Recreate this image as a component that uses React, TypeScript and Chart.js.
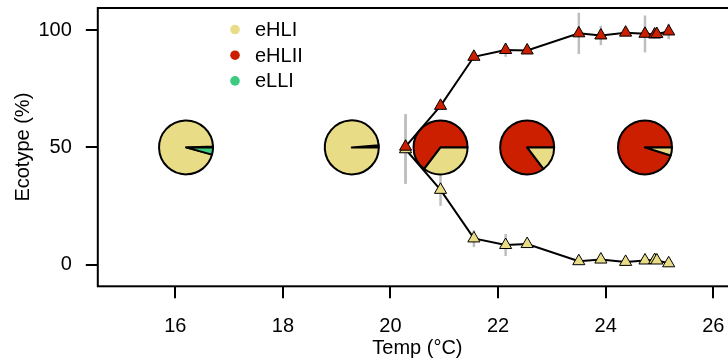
import React, { useEffect, useRef } from "react";
import { Chart, registerables } from "chart.js";
Chart.register(...registerables);

const FONT = "'Liberation Sans', Arial, Helvetica, sans-serif";

// Legend / ecotypes
const ecotypes = ["eHLI", "eHLII", "eLLI"];
const ecotypeColors = ["#E8DC86", "#CC1F00", "#3CCB7F"];

// Triangle series (temperature, % of ecotype)
const tempPoints = [20.28, 20.93, 21.55, 22.14, 22.54, 23.5, 23.91, 24.37, 24.73, 24.91, 24.95, 25.17];
const eHLIIValues = [50.3, 67.7, 88.6, 91.5, 91.3, 98.6, 97.7, 98.9, 98.4, 98.1, 98.3, 99.4];
const eHLIValues = [49.2, 31.9, 11.2, 8.4, 8.8, 1.5, 2.2, 1.2, 1.8, 2.0, 1.8, 0.6];

// Error bars (grey)
const eHLIIErrTemps = [20.28, 22.14, 23.5, 23.91, 24.73, 25.17];
const eHLIIErrLow = [34.5, 88.6, 89.8, 93.6, 90.5, 96.1];
const eHLIIErrHigh = [64.1, 94.4, 107.4, 101.8, 106.2, 102.7];
const eHLIErrTemps = [20.28, 20.93, 21.55, 22.14];
const eHLIErrLow = [34.5, 25.1, 7.5, 3.7];
const eHLIErrHigh = [64.1, 38.5, 14.7, 13.1];

// Pies (position + composition in %)
const pieTemps = [16.2, 19.28, 20.93, 22.54, 24.73];
const pieLevels = [50, 50, 50, 50, 50];
const pieEHLII = [0.5, 1.2, 64.7, 85.3, 95.1];
const pieEHLI = [95.2, 98.8, 35.3, 14.7, 4.9];
const pieELLI = [4.3, 0, 0, 0, 0];

// Axes
const xTicks = [16, 18, 20, 22, 24, 26];
const yTicks = [0, 50, 100];
const xTitle = "Temp (\u00B0C)";
const yTitle = "Ecotype (%)";

const PIE_R = 27;

const overlayPlugin = {
  id: "overlay",
  beforeDatasetsDraw(chart: any) {
    const { ctx, scales } = chart;
    const xs = scales.x;
    const ys = scales.y;
    ctx.save();
    // error bars
    ctx.strokeStyle = "#BEBEBE";
    ctx.lineWidth = 2.5;
    const drawBars = (t: number[], lo: number[], hi: number[]) => {
      t.forEach((tv, i) => {
        const px = xs.getPixelForValue(tv);
        ctx.beginPath();
        ctx.moveTo(px, ys.getPixelForValue(lo[i]));
        ctx.lineTo(px, ys.getPixelForValue(hi[i]));
        ctx.stroke();
      });
    };
    drawBars(eHLIIErrTemps, eHLIIErrLow, eHLIIErrHigh);
    drawBars(eHLIErrTemps, eHLIErrLow, eHLIErrHigh);

    // pies: counter-clockwise from 3 o'clock, order eHLII, eHLI, eLLI
    pieTemps.forEach((tv, i) => {
      const cx = xs.getPixelForValue(tv);
      const cy = ys.getPixelForValue(pieLevels[i]);
      const parts = [pieEHLII[i], pieEHLI[i], pieELLI[i]];
      const cols = [ecotypeColors[1], ecotypeColors[0], ecotypeColors[2]];
      const total = parts.reduce((a, b) => a + b, 0);
      let a0 = 0;
      ctx.lineWidth = 2;
      ctx.strokeStyle = "#000";
      ctx.lineJoin = "round";
      parts.forEach((p, k) => {
        if (p <= 0) return;
        const a1 = a0 - (p / total) * Math.PI * 2;
        ctx.beginPath();
        ctx.moveTo(cx, cy);
        ctx.arc(cx, cy, PIE_R, a0, a1, true);
        ctx.closePath();
        ctx.fillStyle = cols[k];
        ctx.fill();
        ctx.stroke();
        a0 = a1;
      });
    });
    ctx.restore();
  },
  afterDraw(chart: any) {
    const { ctx, chartArea } = chart;
    ctx.save();
    // box
    ctx.strokeStyle = "#000";
    ctx.lineWidth = 2;
    ctx.strokeRect(chartArea.left, chartArea.top, chartArea.right - chartArea.left, chartArea.bottom - chartArea.top);
    // legend
    ctx.font = `20px ${FONT}`;
    ctx.textBaseline = "middle";
    ctx.textAlign = "left";
    ecotypes.forEach((name, i) => {
      const y = 29.5 + i * 25.7;
      ctx.beginPath();
      ctx.arc(235, y, 4.8, 0, Math.PI * 2);
      ctx.fillStyle = ecotypeColors[i];
      ctx.fill();
      ctx.fillStyle = "#000";
      ctx.fillText(name, 255, y + 1);
    });
    ctx.restore();
  },
};

export default function App() {
  const ref = useRef<HTMLCanvasElement | null>(null);
  useEffect(() => {
    if (!ref.current) return;
    const tickFont = { family: FONT, size: 20 };
    const chart = new Chart(ref.current, {
      type: "line",
      data: {
        datasets: [
          {
            label: ecotypes[1],
            data: tempPoints.map((t, i) => ({ x: t, y: eHLIIValues[i] })),
            borderColor: "#000",
            borderWidth: 2,
            pointStyle: "triangle",
            pointRadius: 7,
            pointBackgroundColor: ecotypeColors[1],
            pointBorderColor: "#000",
            pointBorderWidth: 1,
            tension: 0,
          },
          {
            label: ecotypes[0],
            data: tempPoints.map((t, i) => ({ x: t, y: eHLIValues[i] })),
            borderColor: "#000",
            borderWidth: 2,
            pointStyle: "triangle",
            pointRadius: 7,
            pointBackgroundColor: ecotypeColors[0],
            pointBorderColor: "#000",
            pointBorderWidth: 1,
            tension: 0,
          },
        ],
      },
      options: {
        responsive: false,
        animation: false,
        devicePixelRatio: 1,
        layout: { padding: { left: 11.3, top: 5.3, right: 6, bottom: 4 } },
        plugins: { legend: { display: false }, tooltip: { enabled: false } },
        scales: {
          x: {
            type: "linear",
            min: 14.56,
            max: 26.44,
            afterBuildTicks: (s: any) => {
              s.ticks = xTicks.map((v) => ({ value: v }));
            },
            afterFit: (s: any) => {
              s.height = 73.7;
              s.paddingLeft = 0;
              s.paddingRight = 0;
            },
            grid: { display: true, drawOnChartArea: false, drawTicks: true, tickLength: 12, color: "#000", lineWidth: 2 },
            border: { display: false },
            ticks: { font: tickFont, color: "#000", padding: 16, maxRotation: 0, autoSkip: false },
            title: { display: true, text: xTitle, font: tickFont, color: "#000", padding: 0 },
          },
          y: {
            type: "linear",
            min: -9.2,
            max: 109.4,
            afterBuildTicks: (s: any) => {
              s.ticks = yTicks.map((v) => ({ value: v }));
            },
            afterFit: (s: any) => {
              s.width = 86.5;
              s.paddingTop = 0;
              s.paddingBottom = 0;
            },
            grid: { display: true, drawOnChartArea: false, drawTicks: true, tickLength: 12, color: "#000", lineWidth: 2 },
            border: { display: false },
            ticks: { font: tickFont, color: "#000", padding: 14, autoSkip: false },
            title: { display: true, text: yTitle, font: tickFont, color: "#000", padding: 0 },
          },
        },
      },
      plugins: [overlayPlugin],
    } as any);
    return () => chart.destroy();
  }, []);
  return (
    <div style={{ position: "fixed", left: 0, top: 0, width: 728, height: 364, overflow: "hidden", background: "#fff" }}>
      <canvas ref={ref} width={745} height={364} style={{ display: "block", width: 745, height: 364 }} />
    </div>
  );
}
